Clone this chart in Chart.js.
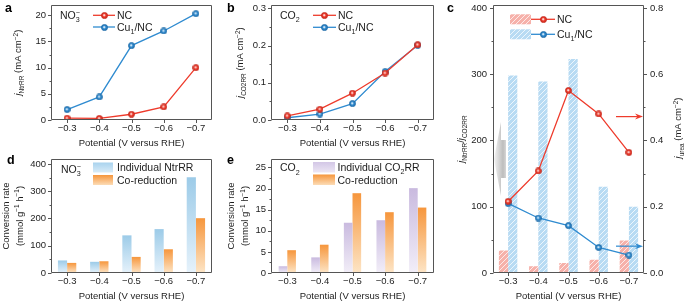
<!DOCTYPE html>
<html><head><meta charset="utf-8">
<script src="https://cdn.jsdelivr.net/npm/chart.js@4.4.1/dist/chart.umd.min.js"></script>
<style>html,body{margin:0;padding:0;background:#fff}#wrap{position:relative;width:685px;height:303px;overflow:hidden;background:#fff}canvas{position:absolute;left:0;top:0}</style>
</head><body><div id="wrap">
<canvas id="pa" width="685" height="303"></canvas>
<canvas id="pb" width="685" height="303"></canvas>
<canvas id="pc" width="685" height="303"></canvas>
<canvas id="pd" width="685" height="303"></canvas>
<canvas id="pe" width="685" height="303"></canvas>
</div>
<script>
// ---------- data ----------
const potentials = ['−0.3','−0.4','−0.5','−0.6','−0.7'];
// panel a: j_NtrRR (mA cm-2)
const aNC = [0.35, 0.30, 1.1, 2.5, 10.0];
const aCu = [2.0, 4.4, 14.2, 17.0, 20.3];
const aYTicks = [0, 5, 10, 15, 20];
// panel b: j_CO2RR (mA cm-2)
const bNC = [0.011, 0.029, 0.072, 0.126, 0.202];
const bCu = [0.006, 0.016, 0.044, 0.130, 0.201];
const bYTicks = [0, 0.1, 0.2, 0.3];
// panel c: ratio bars (left) and j_urea lines (right)
const cRatioNC = [34, 10, 15, 20, 49];
const cRatioCu = [298, 289, 323, 130, 100];
const cUreaNC = [0.216, 0.308, 0.551, 0.480, 0.364];
const cUreaCu = [0.210, 0.166, 0.143, 0.077, 0.054];
const cYTicks = [0, 100, 200, 300, 400];
const cY2Ticks = [0, 0.2, 0.4, 0.6, 0.8];
// panel d: NO3- conversion rate
const dIndividual = [46, 41, 138, 161, 351];
const dCoReduction = [37, 43, 59, 87, 201];
const dYTicks = [0, 100, 200, 300, 400];
// panel e: CO2 conversion rate
const eIndividual = [1.6, 3.7, 11.9, 12.5, 20.1];
const eCoReduction = [5.4, 6.7, 18.9, 14.4, 15.5];
const eYTicks = [0, 5, 10, 15, 20, 25];

// ---------- styles ----------
const FONT = '"Liberation Sans", Arial, Helvetica, sans-serif';
const TXT = '#1c1c1c', AXC = '#555555';
const RED = '#ee3b2c', RED_D = '#c42a1e', BLUE = '#2f8bd0', BLUE_D = '#1f6ca8';
Chart.defaults.font.family = FONT;
Chart.defaults.color = TXT;

function ball(color, dark) {
  const cv = document.createElement('canvas'); cv.width = 7; cv.height = 7;
  const g = cv.getContext('2d');
  const rg = g.createRadialGradient(3.1, 3.1, 0.2, 3.5, 3.5, 3.3);
  rg.addColorStop(0, '#ffffff'); rg.addColorStop(0.45, color); rg.addColorStop(1, dark);
  g.fillStyle = rg; g.beginPath(); g.arc(3.5, 3.5, 3.1, 0, Math.PI * 2); g.fill();
  g.strokeStyle = dark; g.lineWidth = 0.7; g.stroke();
  return cv;
}
const redBall = ball(RED, RED_D), blueBall = ball(BLUE, BLUE_D);

function hatch(base) {
  const cv = document.createElement('canvas'); cv.width = 5; cv.height = 5;
  const g = cv.getContext('2d');
  g.fillStyle = base; g.fillRect(0, 0, 5, 5);
  g.strokeStyle = 'rgba(255,255,255,0.75)'; g.lineWidth = 1;
  g.beginPath(); g.moveTo(-1, 6); g.lineTo(6, -1); g.moveTo(-1, 1); g.lineTo(1, -1); g.moveTo(4, 6); g.lineTo(6, 4); g.stroke();
  return cv;
}
const pinkHatchCv = hatch('#f6b1aa'), blueHatchCv = hatch('#b8dbf3');

function vGrad(top, bottom) {
  return (ctx) => {
    const chart = ctx.chart;
    if (!chart.chartArea || ctx.type !== 'data') return top;
    const ys = chart.scales.y;
    const y1 = ys.getPixelForValue(ctx.raw), y0 = ys.getPixelForValue(0);
    const g = chart.ctx.createLinearGradient(0, y1, 0, y0);
    g.addColorStop(0, top); g.addColorStop(1, bottom);
    return g;
  };
}

function drawRich(c, segs, x, y, size, align, rot, color) {
  c.save(); c.translate(x, y); if (rot) c.rotate(rot);
  let pos = 0, prevStart = 0, prevW = 0; const items = [];
  for (const s of segs) {
    const fs = (s.sub || s.sup) ? size * 0.68 : size;
    const font = (s.i ? 'italic ' : '') + (s.b ? 'bold ' : '') + fs + 'px ' + FONT;
    c.font = font;
    const w = c.measureText(s.t).width;
    let sx = pos;
    if (s.stack) { sx = prevStart; pos = Math.max(prevStart + prevW, sx + w); }
    else pos += w;
    items.push({ s, sx, font }); prevStart = sx; prevW = w;
  }
  const x0 = align === 'center' ? -pos / 2 : align === 'right' ? -pos : 0;
  const base = size * 0.36;
  c.fillStyle = color || TXT; c.textBaseline = 'alphabetic'; c.textAlign = 'left';
  for (const it of items) {
    c.font = it.font;
    const dy = it.s.sub ? size * 0.3 : it.s.sup ? -size * 0.4 : 0;
    c.fillText(it.s.t, x0 + it.sx, base + dy);
  }
  c.restore();
}
function letter(c, t, x, y) {
  c.font = 'bold 12.5px ' + FONT; c.fillStyle = '#000'; c.textBaseline = 'middle'; c.textAlign = 'left'; c.fillText(t, x, y);
}
function lineLegend(c, x1, x2, y, color, img) {
  c.strokeStyle = color; c.lineWidth = 1.3; c.beginPath(); c.moveTo(x1, y); c.lineTo(x2, y); c.stroke();
  c.drawImage(img, Math.round((x1 + x2) / 2 - img.width / 2), Math.round(y - img.height / 2));
}
function gradSwatch(c, x, y, w, h, top, bottom) {
  const g = c.createLinearGradient(0, y, 0, y + h); g.addColorStop(0, top); g.addColorStop(1, bottom);
  c.fillStyle = g; c.fillRect(x, y, w, h);
}
function xTitle(c, a) { drawRich(c, [{ t: 'Potential (V versus RHE)' }], (a.L + a.R) / 2, a.B + 23, 9.5, 'center'); }
function arrowH(c, x1, x2, y, color) {
  c.strokeStyle = color; c.fillStyle = color; c.lineWidth = 1.2;
  c.beginPath(); c.moveTo(x1, y); c.lineTo(x2 - 5, y); c.stroke();
  c.beginPath(); c.moveTo(x2, y); c.lineTo(x2 - 8, y - 3); c.lineTo(x2 - 5.5, y); c.lineTo(x2 - 8, y + 3); c.closePath(); c.fill();
}
const mids = (t) => t.slice(1).map((v, i) => (v + t[i]) / 2);
const fixW = (w) => (s) => { s.width = w; s.paddingTop = 0; s.paddingBottom = 0; s.paddingLeft = 0; s.paddingRight = 0; };
const fixH = (h) => (s) => { s.height = h; s.paddingTop = 0; s.paddingBottom = 0; s.paddingLeft = 0; s.paddingRight = 0; };
const fmt = (v, d) => d ? Number(v).toFixed(d) : String(v);

function decoPlugin(cfg) {
  return {
    id: 'deco', afterDraw(chart) {
      const c = chart.ctx, a = chart.chartArea;
      const L = Math.round(a.left) + 0.5, R = Math.round(a.right) - 0.5, T = Math.round(a.top) + 0.5, B = Math.round(a.bottom) - 0.5;
      c.save();
      c.strokeStyle = AXC; c.lineWidth = 1;
      c.beginPath(); c.rect(L, T, R - L, B - T);
      const ys = chart.scales.y;
      cfg.y.ticks.forEach(v => { const p = Math.round(ys.getPixelForValue(v)) + 0.5; c.moveTo(L, p); c.lineTo(L - 3.5, p); });
      mids(cfg.y.ticks).forEach(v => { const p = Math.round(ys.getPixelForValue(v)) + 0.5; c.moveTo(L, p); c.lineTo(L - 2, p); });
      const xs = chart.scales.x;
      potentials.forEach((_, i) => { const p = Math.round(xs.getPixelForTick(i)) + 0.5; c.moveTo(p, B); c.lineTo(p, B + 3.5); });
      if (cfg.y2) {
        const y2 = chart.scales.y2;
        cfg.y2.ticks.forEach(v => { const p = Math.round(y2.getPixelForValue(v)) + 0.5; c.moveTo(R, p); c.lineTo(R + 3.5, p); });
        mids(cfg.y2.ticks).forEach(v => { const p = Math.round(y2.getPixelForValue(v)) + 0.5; c.moveTo(R, p); c.lineTo(R + 2, p); });
      }
      c.stroke();
      c.restore();
      c.save(); cfg.draw(chart, c, { L: a.left, R: a.right, T: a.top, B: a.bottom }); c.restore();
    }
  };
}

function panel(id, box, cfg) {
  const YW = 40, XH = 20, Y2W = cfg.y2 ? 30 : 0, W = 685, H = 303;
  const tickFont = { size: 9.5, family: FONT };
  const scales = {
    x: { type: 'category', labels: potentials, offset: true, grid: { display: false, drawTicks: false }, border: { display: false },
      ticks: { padding: 3, color: TXT, font: tickFont, autoSkip: false, maxRotation: 0, minRotation: 0 }, afterFit: fixH(XH) },
    y: { type: 'linear', position: 'left', min: cfg.y.min, max: cfg.y.max, grid: { display: false, drawTicks: false }, border: { display: false },
      ticks: { padding: cfg.y.pad || 5, color: TXT, font: tickFont, callback: (v) => fmt(v, cfg.y.dec) },
      afterBuildTicks: (s) => { s.ticks = cfg.y.ticks.map(v => ({ value: v })); }, afterFit: fixW(YW) }
  };
  if (cfg.y2) {
    scales.y2 = { type: 'linear', position: 'right', min: cfg.y2.min, max: cfg.y2.max, grid: { display: false, drawTicks: false }, border: { display: false },
      ticks: { padding: cfg.y2.pad || 6, color: TXT, font: tickFont, callback: (v) => fmt(v, cfg.y2.dec) },
      afterBuildTicks: (s) => { s.ticks = cfg.y2.ticks.map(v => ({ value: v })); }, afterFit: fixW(Y2W) };
  }
  return new Chart(document.getElementById(id), {
    type: cfg.type,
    data: { labels: potentials, datasets: cfg.datasets },
    options: {
      responsive: false, animation: false, devicePixelRatio: 1, events: [],
      layout: { padding: { left: box.L - YW, top: box.T, right: W - box.R - Y2W, bottom: H - box.B - XH } },
      plugins: { legend: { display: false }, tooltip: { enabled: false } },
      scales
    },
    plugins: [decoPlugin(cfg)]
  });
}

function lineDs(label, data, color, img, axis) {
  return { type: 'line', label, data, borderColor: color, backgroundColor: color, borderWidth: 1.3, tension: 0,
    pointStyle: img, pointRadius: 3, yAxisID: axis || 'y', order: 0 };
}

// ---------- panel a ----------
panel('pa', { L: 51, R: 212, T: 5, B: 120 }, {
  type: 'line',
  y: { min: 0, max: 21.9, ticks: aYTicks },
  datasets: [lineDs('NC', aNC, RED, redBall), lineDs('Cu1/NC', aCu, BLUE, blueBall)],
  draw(chart, c, a) {
    letter(c, 'a', 5, 9);
    drawRich(c, [{ t: 'NO' }, { t: '3', sub: 1 }, { t: '−', sup: 1, stack: 1 }], a.L + 9, a.T + 10, 10.5, 'left');
    lineLegend(c, a.L + 42, a.L + 64, a.T + 10, RED, redBall);
    drawRich(c, [{ t: 'NC' }], a.L + 66, a.T + 10, 10.5, 'left');
    lineLegend(c, a.L + 42, a.L + 64, a.T + 21.7, BLUE, blueBall);
    drawRich(c, [{ t: 'Cu' }, { t: '1', sub: 1 }, { t: '/NC' }], a.L + 66, a.T + 21.7, 10.5, 'left');
    drawRich(c, [{ t: 'j', i: 1 }, { t: 'NtrRR', sub: 1 }, { t: ' (mA cm' }, { t: '−2', sup: 1 }, { t: ')' }], a.L - 33, (a.T + a.B) / 2, 9.5, 'center', -Math.PI / 2);
    xTitle(c, a);
  }
});

// ---------- panel b ----------
panel('pb', { L: 271, R: 434, T: 5, B: 120 }, {
  type: 'line',
  y: { min: 0, max: 0.308, ticks: bYTicks, dec: 1 },
  datasets: [lineDs('NC', bNC, RED, redBall), lineDs('Cu1/NC', bCu, BLUE, blueBall)],
  draw(chart, c, a) {
    letter(c, 'b', 227, 9);
    drawRich(c, [{ t: 'CO' }, { t: '2', sub: 1 }], a.L + 9, a.T + 10, 10.5, 'left');
    lineLegend(c, a.L + 42, a.L + 65, a.T + 10, RED, redBall);
    drawRich(c, [{ t: 'NC' }], a.L + 67, a.T + 10, 10.5, 'left');
    lineLegend(c, a.L + 42, a.L + 65, a.T + 22, BLUE, blueBall);
    drawRich(c, [{ t: 'Cu' }, { t: '1', sub: 1 }, { t: '/NC' }], a.L + 67, a.T + 22, 10.5, 'left');
    drawRich(c, [{ t: 'j', i: 1 }, { t: 'CO2RR', sub: 1 }, { t: ' (mA cm' }, { t: '−2', sup: 1 }, { t: ')' }], a.L - 31, (a.T + a.B) / 2, 9.5, 'center', -Math.PI / 2);
    xTitle(c, a);
  }
});

// ---------- panel c ----------
let pinkPat = null, bluePat = null;
const patFor = (which) => (ctx) => {
  const g = ctx.chart.ctx;
  if (which === 'pink') { if (!pinkPat) pinkPat = g.createPattern(pinkHatchCv, 'repeat'); return pinkPat; }
  if (!bluePat) bluePat = g.createPattern(blueHatchCv, 'repeat'); return bluePat;
};
panel('pc', { L: 493, R: 644, T: 5, B: 273 }, {
  type: 'bar',
  y: { min: 0, max: 404, ticks: cYTicks, pad: 6 },
  y2: { min: 0, max: 0.808, ticks: cY2Ticks, dec: 1, pad: 6 },
  datasets: [
    { type: 'bar', label: 'NC ratio', data: cRatioNC, backgroundColor: patFor('pink'), borderWidth: 0, categoryPercentage: 0.61, barPercentage: 1, yAxisID: 'y', order: 1 },
    { type: 'bar', label: 'Cu1/NC ratio', data: cRatioCu, backgroundColor: patFor('blue'), borderWidth: 0, categoryPercentage: 0.61, barPercentage: 1, yAxisID: 'y', order: 1 },
    lineDs('NC', cUreaNC, RED, redBall, 'y2'),
    lineDs('Cu1/NC', cUreaCu, BLUE, blueBall, 'y2')
  ],
  draw(chart, c, a) {
    letter(c, 'c', 447, 9);
    const g = c;
    g.fillStyle = g.createPattern(pinkHatchCv, 'repeat'); g.fillRect(a.L + 17, a.T + 9, 21, 10);
    g.fillStyle = g.createPattern(blueHatchCv, 'repeat'); g.fillRect(a.L + 17, a.T + 24, 21, 10);
    lineLegend(c, a.L + 38, a.L + 62, a.T + 14, RED, redBall);
    drawRich(c, [{ t: 'NC' }], a.L + 64, a.T + 14, 10.5, 'left');
    lineLegend(c, a.L + 38, a.L + 62, a.T + 29, BLUE, blueBall);
    drawRich(c, [{ t: 'Cu' }, { t: '1', sub: 1 }, { t: '/NC' }], a.L + 64, a.T + 29, 10.5, 'left');
    // grey arrow pointing to left axis
    const ys = chart.scales.y, y2 = chart.scales.y2;
    const cy = ys.getPixelForValue(172), L = a.L;
    const gr = c.createLinearGradient(L + 1, 0, L + 13, 0);
    gr.addColorStop(0, '#f4f4f4'); gr.addColorStop(0.75, '#bdbdbd'); gr.addColorStop(1, '#d6d6d6');
    c.fillStyle = gr;
    c.beginPath(); c.moveTo(L + 1, cy); c.lineTo(L + 8, cy - 37); c.lineTo(L + 8, cy - 19); c.lineTo(L + 13, cy - 19);
    c.lineTo(L + 13, cy + 19); c.lineTo(L + 8, cy + 19); c.lineTo(L + 8, cy + 37); c.closePath(); c.fill();
    // coloured arrows pointing to right axis
    arrowH(c, a.R - 28, a.R - 1, y2.getPixelForValue(0.472), RED);
    arrowH(c, a.R - 28, a.R - 1, y2.getPixelForValue(0.081), BLUE);
    drawRich(c, [{ t: 'j', i: 1 }, { t: 'NtrRR', sub: 1 }, { t: '/' }, { t: 'j', i: 1 }, { t: 'CO2RR', sub: 1 }], a.L - 32, (a.T + a.B) / 2, 9.5, 'center', -Math.PI / 2);
    drawRich(c, [{ t: 'j', i: 1 }, { t: 'urea', sub: 1 }, { t: ' (mA cm' }, { t: '−2', sup: 1 }, { t: ')' }], a.R + 34, 128, 9.5, 'center', -Math.PI / 2);
    xTitle(c, a);
  }
});

// ---------- panel d ----------
const BL_T = '#9ccbe8', BL_B = '#e6f2fb', OR_T = '#f6963c', OR_B = '#fde5c6', PU_T = '#c9badf', PU_B = '#f2eef8';
panel('pd', { L: 51, R: 212, T: 159, B: 273 }, {
  type: 'bar',
  y: { min: 0, max: 418, ticks: dYTicks },
  datasets: [
    { label: 'Individual NtrRR', data: dIndividual, backgroundColor: vGrad(BL_T, BL_B), borderWidth: 0, categoryPercentage: 0.57, barPercentage: 1 },
    { label: 'Co-reduction', data: dCoReduction, backgroundColor: vGrad(OR_T, OR_B), borderWidth: 0, categoryPercentage: 0.57, barPercentage: 1 }
  ],
  draw(chart, c, a) {
    letter(c, 'd', 7, 161);
    drawRich(c, [{ t: 'NO' }, { t: '3', sub: 1 }, { t: '−', sup: 1, stack: 1 }], a.L + 10, a.T + 10.5, 10.5, 'left');
    gradSwatch(c, a.L + 42, a.T + 3.5, 20, 10, '#a9d3ee', '#d8ebf8');
    drawRich(c, [{ t: 'Individual NtrRR' }], a.L + 66, a.T + 8.5, 10.5, 'left');
    gradSwatch(c, a.L + 42, a.T + 16, 20, 10, OR_T, '#fcdcb6');
    drawRich(c, [{ t: 'Co-reduction' }], a.L + 66, a.T + 21, 10.5, 'left');
    const cy = (a.T + a.B) / 2;
    drawRich(c, [{ t: 'Conversion rate' }], a.L - 45.5, cy, 9.5, 'center', -Math.PI / 2);
    drawRich(c, [{ t: '(mmol g' }, { t: '−1', sup: 1 }, { t: ' h' }, { t: '−1', sup: 1 }, { t: ')' }], a.L - 31.5, cy, 9.5, 'center', -Math.PI / 2);
    xTitle(c, a);
  }
});

// ---------- panel e ----------
panel('pe', { L: 271, R: 434, T: 159, B: 273 }, {
  type: 'bar',
  y: { min: 0, max: 27, ticks: eYTicks },
  datasets: [
    { label: 'Individual CO2RR', data: eIndividual, backgroundColor: vGrad(PU_T, PU_B), borderWidth: 0, categoryPercentage: 0.53, barPercentage: 1 },
    { label: 'Co-reduction', data: eCoReduction, backgroundColor: vGrad(OR_T, OR_B), borderWidth: 0, categoryPercentage: 0.53, barPercentage: 1 }
  ],
  draw(chart, c, a) {
    letter(c, 'e', 227, 161);
    drawRich(c, [{ t: 'CO' }, { t: '2', sub: 1 }], a.L + 9, a.T + 8.7, 10.5, 'left');
    gradSwatch(c, a.L + 42, a.T + 3, 22, 10.5, '#d3c7e6', '#ece6f4');
    drawRich(c, [{ t: 'Individual CO' }, { t: '2', sub: 1 }, { t: 'RR' }], a.L + 66.5, a.T + 8.5, 10.5, 'left');
    gradSwatch(c, a.L + 42, a.T + 15.5, 22, 10.5, OR_T, '#fcdcb6');
    drawRich(c, [{ t: 'Co-reduction' }], a.L + 66.5, a.T + 21, 10.5, 'left');
    const cy = (a.T + a.B) / 2;
    drawRich(c, [{ t: 'Conversion rate' }], a.L - 40, cy, 9.5, 'center', -Math.PI / 2);
    drawRich(c, [{ t: '(mmol g' }, { t: '−1', sup: 1 }, { t: ' h' }, { t: '−1', sup: 1 }, { t: ')' }], a.L - 26, cy, 9.5, 'center', -Math.PI / 2);
    xTitle(c, a);
  }
});
</script></body></html>
